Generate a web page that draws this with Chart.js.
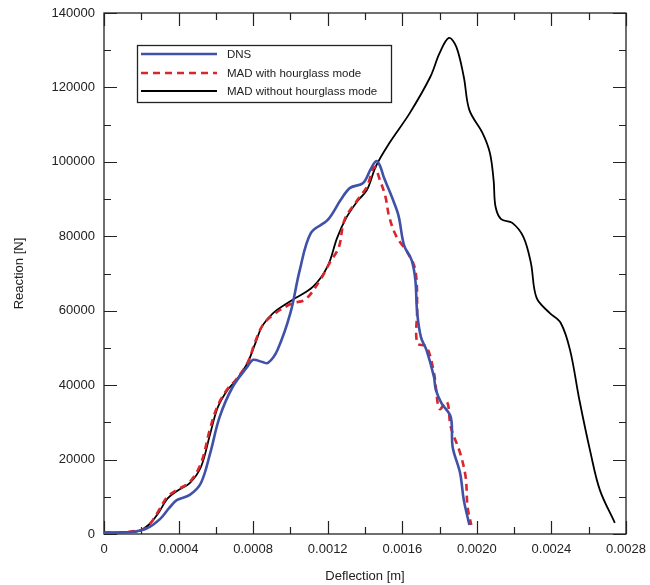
<!DOCTYPE html>
<html>
<head>
<meta charset="utf-8">
<script src="https://cdn.jsdelivr.net/npm/chart.js"></script>
<style>
  html, body { margin: 0; padding: 0; background: #fff; }
  #wrap { width: 650px; height: 585px; }
</style>
</head>
<body>
<div id="wrap"><canvas id="grafico"></canvas></div>
<script>
// ---------- Dados ----------
const xTicks = [0, 0.0004, 0.0008, 0.0012, 0.0016, 0.0020, 0.0024, 0.0028];
const yTicks = [0, 20000, 40000, 60000, 80000, 100000, 120000, 140000];

const legendLabels = ["DNS", "MAD with hourglass mode", "MAD without hourglass mode"];

// DNS
const dnsX = [0, 0.0001, 0.00016, 0.00023, 0.0003, 0.00035, 0.00039, 0.00046, 0.00052, 0.00057,
  0.00062, 0.00069, 0.00077, 0.0008, 0.00085, 0.00088, 0.00093, 0.001, 0.00105, 0.00111,
  0.0012, 0.00127, 0.00132, 0.00139, 0.00143, 0.00146, 0.00148, 0.0015, 0.00155, 0.00158,
  0.00161, 0.00165, 0.00167, 0.00168, 0.0017, 0.00173, 0.00177, 0.00178, 0.00181, 0.00186,
  0.00187, 0.00191, 0.00193, 0.00196];
const dnsY = [300, 400, 600, 1500, 4000, 7000, 9100, 10500, 13700, 21800,
  31400, 39500, 45000, 46800, 46200, 46000, 49400, 59400, 70900, 80900,
  84400, 89800, 93000, 94300, 98000, 100200, 99000, 96000, 89800, 85500,
  77500, 73600, 68300, 59400, 52900, 49400, 42200, 38700, 35200, 31400,
  23400, 16400, 9100, 2400];

// MAD com modo hourglass
const hgX = [0, 0.0001, 0.00015, 0.00021, 0.00025, 0.00029, 0.00034, 0.00039, 0.00046, 0.00052,
  0.00057, 0.00061, 0.00066, 0.00071, 0.00077, 0.00081, 0.00085, 0.00091, 0.00101, 0.00108,
  0.00116, 0.00121, 0.00126, 0.00129, 0.00136, 0.00141, 0.00145, 0.00148, 0.00151, 0.00153,
  0.00157, 0.00163, 0.00167, 0.00168, 0.00168, 0.00173, 0.00177, 0.00178, 0.0018, 0.00184,
  0.00186, 0.00191, 0.00194, 0.00195, 0.00197];
const hgY = [300, 400, 700, 1200, 2900, 6000, 10000, 11800, 14000, 19000,
  28500, 34500, 38800, 41600, 46000, 51500, 56000, 59000, 62000, 63000,
  68300, 72800, 77100, 84400, 89800, 93300, 98600, 95100, 90600, 85200,
  79800, 75500, 70900, 61000, 51300, 50300, 43300, 39500, 33600, 35500,
  28800, 21800, 15300, 7300, 2400];

// MAD sem modo hourglass
const noHgX = [0, 0.0001, 0.00018, 0.00024, 0.00029, 0.00034, 0.00039, 0.00046, 0.00052, 0.00057,
  0.00061, 0.00066, 0.00071, 0.00077, 0.00081, 0.00085, 0.00091, 0.00101, 0.00112, 0.0012,
  0.00125, 0.0013, 0.00136, 0.00141, 0.00146, 0.00153, 0.00164, 0.00175, 0.0018, 0.00185,
  0.00189, 0.00193, 0.00196, 0.00203, 0.00207, 0.00209, 0.0021, 0.00213, 0.00219, 0.00225,
  0.00229, 0.00232, 0.00239, 0.00245, 0.0025, 0.00255, 0.00261, 0.00266, 0.00274];
const noHgY = [400, 500, 700, 2500, 5500, 9500, 11500, 13700, 18000, 27000,
  34000, 38500, 41400, 46000, 51000, 56000, 59500, 62900, 66400, 72000,
  79500, 85000, 89500, 92400, 99000, 105000, 113100, 122800, 129200, 133300,
  130900, 122800, 113900, 107800, 102400, 95000, 88000, 84600, 83600, 79800,
  72800, 63500, 59400, 56700, 49400, 36000, 21800, 11800, 3000];

const pts = (xs, ys) => xs.map((x, i) => ({ x: x, y: ys[i] }));

const BLUE = "#3f51a8";
const RED = "#d9262c";
const BLACK = "#000000";
const FONT = "'Liberation Sans', Arial, sans-serif";

// ---------- Moldura, ticks internos e legenda ----------
const molduraPlugin = {
  id: "moldura",
  beforeDatasetsDraw(chart) {
    const { ctx, chartArea: a, scales } = chart;
    const sx = scales.x, sy = scales.y;
    ctx.save();
    ctx.strokeStyle = "#222";
    ctx.lineWidth = 1.3;
    ctx.strokeRect(a.left, a.top, a.right - a.left, a.bottom - a.top);
    ctx.lineWidth = 1.2;
    ctx.beginPath();
    for (let v = 0; v <= 0.0028 + 1e-9; v += 0.0002) {
      const major = Math.round(v / 0.0002) % 2 === 0;
      const len = major ? 13 : 7;
      const px = Math.round(sx.getPixelForValue(v)) + 0.5;
      ctx.moveTo(px, a.bottom); ctx.lineTo(px, a.bottom - len);
      ctx.moveTo(px, a.top); ctx.lineTo(px, a.top + len);
    }
    for (let v = 0; v <= 140000; v += 10000) {
      const major = (v / 10000) % 2 === 0;
      const len = major ? 13 : 7;
      const py = Math.round(sy.getPixelForValue(v)) + 0.5;
      ctx.moveTo(a.left, py); ctx.lineTo(a.left + len, py);
      ctx.moveTo(a.right, py); ctx.lineTo(a.right - len, py);
    }
    ctx.stroke();
    ctx.restore();
  },
  afterDraw(chart) {
    const ctx = chart.ctx;
    const bx = 137, by = 45, bw = 254, bh = 57;
    ctx.save();
    ctx.fillStyle = "#fff";
    ctx.fillRect(bx, by, bw, bh);
    ctx.strokeStyle = "#222";
    ctx.lineWidth = 1.3;
    ctx.strokeRect(bx + 0.5, by + 0.5, bw, bh);
    const rows = [54, 73, 91];
    chart.data.datasets.forEach((ds, i) => {
      ctx.beginPath();
      ctx.strokeStyle = ds.borderColor;
      ctx.lineWidth = ds.borderWidth;
      ctx.setLineDash(ds.borderDash || []);
      ctx.moveTo(141, rows[i]);
      ctx.lineTo(217, rows[i]);
      ctx.stroke();
      ctx.setLineDash([]);
      ctx.fillStyle = "#222";
      ctx.font = "11.5px " + FONT;
      ctx.textBaseline = "middle";
      ctx.fillText(legendLabels[i], 227, rows[i] + 0.5);
    });
    ctx.restore();
  }
};

new Chart(document.getElementById("grafico"), {
  type: "scatter",
  data: {
    datasets: [
      { label: legendLabels[0], data: pts(dnsX, dnsY), showLine: true, borderColor: BLUE,
        borderWidth: 2.6, pointRadius: 0, tension: 0.35 },
      { label: legendLabels[1], data: pts(hgX, hgY), showLine: true, borderColor: RED,
        borderWidth: 2.6, borderDash: [7, 5], pointRadius: 0, tension: 0.35 },
      { label: legendLabels[2], data: pts(noHgX, noHgY), showLine: true, borderColor: BLACK,
        borderWidth: 1.8, pointRadius: 0, tension: 0.35 },
    ],
  },
  options: {
    responsive: true,
    maintainAspectRatio: false,
    animation: false,
    layout: { padding: { top: 13, right: 24, left: 0, bottom: 0 } },
    plugins: { legend: { display: false }, tooltip: { enabled: false } },
    scales: {
      x: {
        type: "linear",
        min: 0, max: 0.0028,
        afterFit: (s) => { s.height = 51; s.paddingLeft = 0; s.paddingRight = 0; },
        afterBuildTicks: (s) => { s.ticks = xTicks.map((v) => ({ value: v })); },
        grid: { display: false, drawTicks: false },
        border: { display: false },
        ticks: {
          padding: 8,
          color: "#222",
          font: { family: FONT, size: 13 },
          callback: (v) => (v === 0 ? "0" : v.toFixed(4)),
        },
        title: { display: true, text: "Deflection [m]", color: "#222",
          font: { family: FONT, size: 13 }, padding: { top: 0, bottom: 1 } },
      },
      y: {
        type: "linear",
        min: 0, max: 140000,
        afterFit: (s) => { s.width = 104; s.paddingTop = 0; s.paddingBottom = 0; },
        afterBuildTicks: (s) => { s.ticks = yTicks.map((v) => ({ value: v })); },
        grid: { display: false, drawTicks: false },
        border: { display: false },
        ticks: {
          padding: 9,
          color: "#222",
          font: { family: FONT, size: 13 },
          callback: (v) => String(v),
        },
        title: { display: true, text: "Reaction [N]", color: "#222",
          font: { family: FONT, size: 13 }, padding: { top: 12, bottom: 0 } },
      },
    },
  },
  plugins: [molduraPlugin],
});
</script>
</body>
</html>
